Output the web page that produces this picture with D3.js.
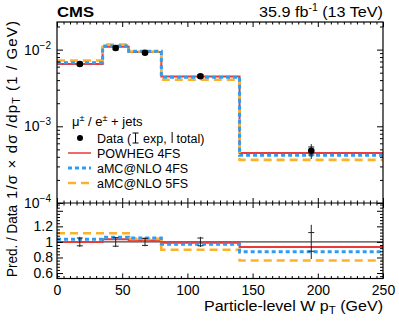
<!DOCTYPE html>
<html><head><meta charset="utf-8">
<script src="https://cdn.jsdelivr.net/npm/d3@7/dist/d3.min.js"></script>
<style>body{margin:0;background:#fff}text{font-family:"Liberation Sans",Arial,Helvetica,sans-serif;fill:#000;white-space:pre}</style>
</head><body>
<svg id="c" width="399" height="322"></svg>
<script>
// ---- data ----
const binEdges = [0, 35, 55, 80, 140, 250];
const dataVals = [0.0065, 0.0105, 0.0091, 0.0045, 0.00048];
const expErrRel = [0.05, 0.055, 0.045, 0.05, 0.12];
const totErrRel = [0.065, 0.065, 0.055, 0.065, 0.22];
const powheg4FS = [0.0065, 0.01087, 0.00928, 0.004455, 0.000449];
const amc4FS = [0.00673, 0.01113, 0.00955, 0.004365, 0.000420];
const amc5FS = [0.00722, 0.01166, 0.00946, 0.00405, 0.000365];
const xTicks = [0, 50, 100, 150, 200, 250];
const yMainTicks = [1e-4, 1e-3, 1e-2];
const yMainLabels = ["\u22124", "\u22123", "\u22122"];
const yRatioTicks = [0.6, 0.8, 1, 1.2];
const yRatioLabels = ["0.6", "0.8", "1", "1.2"];

const colRed = "#ea3a3a", colBlue = "#2d9cf2", colOrange = "#fbb22a";

const svg = d3.select("#c");
const L = 57, R = 383, T = 22, M = 203, B = 278.5;
const x = d3.scaleLinear().domain([0, 250]).range([L, R]);
const y = d3.scaleLog().domain([1e-4, 0.0229]).range([M, T]);
const yr = d3.scaleLinear().domain([0.53, 1.5]).range([B, M]);

function stepPts(vals) {
  const p = vals.map((v, i) => [binEdges[i], v]);
  p.push([binEdges[binEdges.length - 1], vals[vals.length - 1]]);
  return p;
}
const mainLine = d3.line().x(d => x(d[0])).y(d => y(d[1])).curve(d3.curveStepAfter);
const ratioLine = d3.line().x(d => x(d[0])).y(d => yr(d[1])).curve(d3.curveStepAfter);

const models = [
  {vals: powheg4FS, color: colRed, w: 2, dash: null},
  {vals: amc5FS, color: colOrange, w: 2.6, dash: "8,5"},
  {vals: amc4FS, color: colBlue, w: 3, dash: "4,3"}
];

// main panel models
const gMain = svg.append("g");
models.forEach(m => {
  gMain.append("path").attr("d", mainLine(stepPts(m.vals))).attr("fill", "none")
    .attr("stroke", m.color).attr("stroke-width", m.w).attr("stroke-dasharray", m.dash);
});
// main data
const centers = dataVals.map((v, i) => (binEdges[i] + binEdges[i + 1]) / 2);
dataVals.forEach((v, i) => {
  const cx = x(centers[i]);
  gMain.append("line").attr("x1", cx).attr("x2", cx)
    .attr("y1", y(v * (1 + totErrRel[i]))).attr("y2", y(v * (1 - totErrRel[i])))
    .attr("stroke", "#222").attr("stroke-width", 1);
  [1 + expErrRel[i], 1 - expErrRel[i]].forEach(f => {
    gMain.append("line").attr("x1", cx - 3).attr("x2", cx + 3)
      .attr("y1", y(v * f)).attr("y2", y(v * f)).attr("stroke", "#222").attr("stroke-width", 1);
  });
  gMain.append("circle").attr("cx", cx).attr("cy", y(v)).attr("r", 3.3).attr("fill", "#000");
});

// ratio panel
const gR = svg.append("g");
gR.append("line").attr("x1", L).attr("x2", R).attr("y1", yr(1)).attr("y2", yr(1))
  .attr("stroke", "#444").attr("stroke-width", 1.2);
models.forEach(m => {
  const rv = m.vals.map((v, i) => v / dataVals[i]);
  gR.append("path").attr("d", ratioLine(stepPts(rv))).attr("fill", "none")
    .attr("stroke", m.color).attr("stroke-width", m.w).attr("stroke-dasharray", m.dash);
});
dataVals.forEach((v, i) => {
  const cx = x(centers[i]);
  gR.append("line").attr("x1", cx).attr("x2", cx)
    .attr("y1", yr(1 + totErrRel[i])).attr("y2", yr(1 - totErrRel[i]))
    .attr("stroke", "#222").attr("stroke-width", 1);
  [1 + expErrRel[i], 1 - expErrRel[i]].forEach(f => {
    gR.append("line").attr("x1", cx - 3).attr("x2", cx + 3)
      .attr("y1", yr(f)).attr("y2", yr(f)).attr("stroke", "#222").attr("stroke-width", 1);
  });
});

// frames
svg.append("rect").attr("x", L).attr("y", T).attr("width", R - L).attr("height", B - T)
  .attr("fill", "none").attr("stroke", "#000").attr("stroke-width", 1.2);
svg.append("line").attr("x1", L).attr("x2", R).attr("y1", M).attr("y2", M)
  .attr("stroke", "#000").attr("stroke-width", 1.2);

// ticks helper
function ticksG(axis, tr) {
  const g = svg.append("g").attr("transform", tr).call(axis);
  g.select(".domain").remove();
  g.selectAll("line").attr("stroke", "#000").attr("stroke-width", 1);
  return g;
}
const xMinor = d3.range(0, 251, 5).filter(v => v % 50 !== 0);
[[T, 1], [M, -1], [M, 1], [B, -1]].forEach(([yy, dir]) => {
  ticksG(d3.axisBottom(x).tickValues(xTicks).tickSizeInner(5 * dir).tickSizeOuter(0).tickFormat(""), `translate(0,${yy})`);
  ticksG(d3.axisBottom(x).tickValues(xMinor).tickSizeInner(2.5 * dir).tickSizeOuter(0).tickFormat(""), `translate(0,${yy})`);
});
// x labels
const xl = ticksG(d3.axisBottom(x).tickValues(xTicks).tickSizeInner(0).tickSizeOuter(0).tickPadding(7), `translate(0,${B})`);
xl.selectAll("text").attr("font-size", 14).attr("font-family", "Liberation Sans, Arial, sans-serif");

// y main ticks
const yMinor = [];
[1e-4, 1e-3, 1e-2].forEach(d => { for (let k = 2; k <= 9; k++) { const v = d * k; if (v <= 0.0229) yMinor.push(v); } });
[[L, 1], [R, -1]].forEach(([xx, dir]) => {
  ticksG(d3.axisLeft(y).tickValues(yMainTicks).tickSizeInner(-6 * dir).tickSizeOuter(0).tickFormat(""), `translate(${xx},0)`);
  ticksG(d3.axisLeft(y).tickValues(yMinor).tickSizeInner(-3 * dir).tickSizeOuter(0).tickFormat(""), `translate(${xx},0)`);
});
// y ratio ticks
const yrMajor = [0.6, 0.8, 1, 1.2, 1.4];
const yrMinor = d3.range(0.56, 1.5, 0.04).map(v => +v.toFixed(2)).filter(v => !yrMajor.some(m => Math.abs(m - v) < 1e-6));
[[L, 1], [R, -1]].forEach(([xx, dir]) => {
  ticksG(d3.axisLeft(yr).tickValues(yrMajor).tickSizeInner(-6 * dir).tickSizeOuter(0).tickFormat(""), `translate(${xx},0)`);
  ticksG(d3.axisLeft(yr).tickValues(yrMinor).tickSizeInner(-3 * dir).tickSizeOuter(0).tickFormat(""), `translate(${xx},0)`);
});

// y main labels (10^n)
yMainTicks.forEach((v, i) => {
  const t = svg.append("text").attr("x", L - 6).attr("y", y(v) + 5).attr("text-anchor", "end").attr("font-size", 14);
  t.append("tspan").text("10");
  t.append("tspan").attr("dy", -6).attr("font-size", 10).text(yMainLabels[i]);
});
// ratio labels
yRatioTicks.forEach((v, i) => {
  svg.append("text").attr("x", L - 4).attr("y", yr(v) + 5).attr("text-anchor", "end")
    .attr("font-size", 14).text(yRatioLabels[i]);
});

// axis titles
const yt = svg.append("text").attr("transform", `translate(17,${110}) rotate(-90)`)
  .attr("text-anchor", "middle").attr("font-size", 15)
  .attr("textLength", 178).attr("lengthAdjust", "spacing");
yt.append("tspan").text("1/\u03c3 \u00d7 d\u03c3 /dp");
yt.append("tspan").attr("dy", 3).attr("font-size", 10.5).text("T");
yt.append("tspan").attr("dy", -3).text(" (1 / GeV)");
svg.append("text").attr("transform", `translate(17,${241}) rotate(-90)`)
  .attr("text-anchor", "middle").attr("font-size", 15)
  .attr("textLength", 72).attr("lengthAdjust", "spacingAndGlyphs").text("Pred. / Data");
const xt = svg.append("text").attr("x", R).attr("y", 311).attr("text-anchor", "end").attr("font-size", 15.5)
  .attr("textLength", 179).attr("lengthAdjust", "spacingAndGlyphs");
xt.append("tspan").text("Particle-level W p");
xt.append("tspan").attr("dy", 3).attr("font-size", 11).text("T");
xt.append("tspan").attr("dy", -3).text(" (GeV)");

// header
svg.append("text").attr("x", L).attr("y", 17).attr("font-size", 15.5).attr("font-weight", "bold")
  .attr("textLength", 37).attr("lengthAdjust", "spacingAndGlyphs").text("CMS");
const hd = svg.append("text").attr("x", R).attr("y", 17).attr("text-anchor", "end").attr("font-size", 15.5)
  .attr("textLength", 124).attr("lengthAdjust", "spacingAndGlyphs");
hd.append("tspan").text("35.9 fb");
hd.append("tspan").attr("dy", -6).attr("font-size", 10).text("-1");
hd.append("tspan").attr("dy", 6).text(" (13 TeV)");

// legend
const lg = svg.append("g");
const lt = lg.append("text").attr("x", 72).attr("y", 126).attr("font-size", 13);
lt.append("tspan").text("\u03bc");
lt.append("tspan").attr("dy", -5).attr("font-size", 9).text("\u00b1");
lt.append("tspan").attr("dy", 5).text(" / e");
lt.append("tspan").attr("dy", -5).attr("font-size", 9).text("\u00b1");
lt.append("tspan").attr("dy", 5).text(" + jets");

const legY = [138, 153, 168, 183];
const tx = 97;
lg.append("circle").attr("cx", 80).attr("cy", legY[0]).attr("r", 3).attr("fill", "#000");
let cur = tx;
function addTxt(s) {
  const t = lg.append("text").attr("x", cur).attr("y", legY[0] + 4.5).attr("font-size", 12.5).text(s);
  cur += t.node().getComputedTextLength();
}
addTxt("Data (");
cur += 1.5;
lg.append("line").attr("x1", cur + 3).attr("x2", cur + 3).attr("y1", legY[0] - 5).attr("y2", legY[0] + 5).attr("stroke", "#000");
lg.append("line").attr("x1", cur).attr("x2", cur + 6).attr("y1", legY[0] - 5).attr("y2", legY[0] - 5).attr("stroke", "#000");
lg.append("line").attr("x1", cur).attr("x2", cur + 6).attr("y1", legY[0] + 5).attr("y2", legY[0] + 5).attr("stroke", "#000");
cur += 7;
addTxt(" exp, ");
cur += 1;
lg.append("line").attr("x1", cur + 1).attr("x2", cur + 1).attr("y1", legY[0] - 6).attr("y2", legY[0] + 5).attr("stroke", "#000");
cur += 2;
addTxt(" total)");

const legModels = [
  {name: "POWHEG 4FS", color: colRed, w: 1.5, dash: null},
  {name: "aMC@NLO 4FS", color: colBlue, w: 3, dash: "4,3"},
  {name: "aMC@NLO 5FS", color: colOrange, w: 2.6, dash: "8,5"}
];
legModels.forEach((m, i) => {
  const yy = legY[i + 1];
  lg.append("line").attr("x1", 68).attr("x2", 91).attr("y1", yy).attr("y2", yy)
    .attr("stroke", m.color).attr("stroke-width", m.w).attr("stroke-dasharray", m.dash);
  lg.append("text").attr("x", tx).attr("y", yy + 4.5).attr("font-size", 12.5).text(m.name);
});
</script>
</body></html>
